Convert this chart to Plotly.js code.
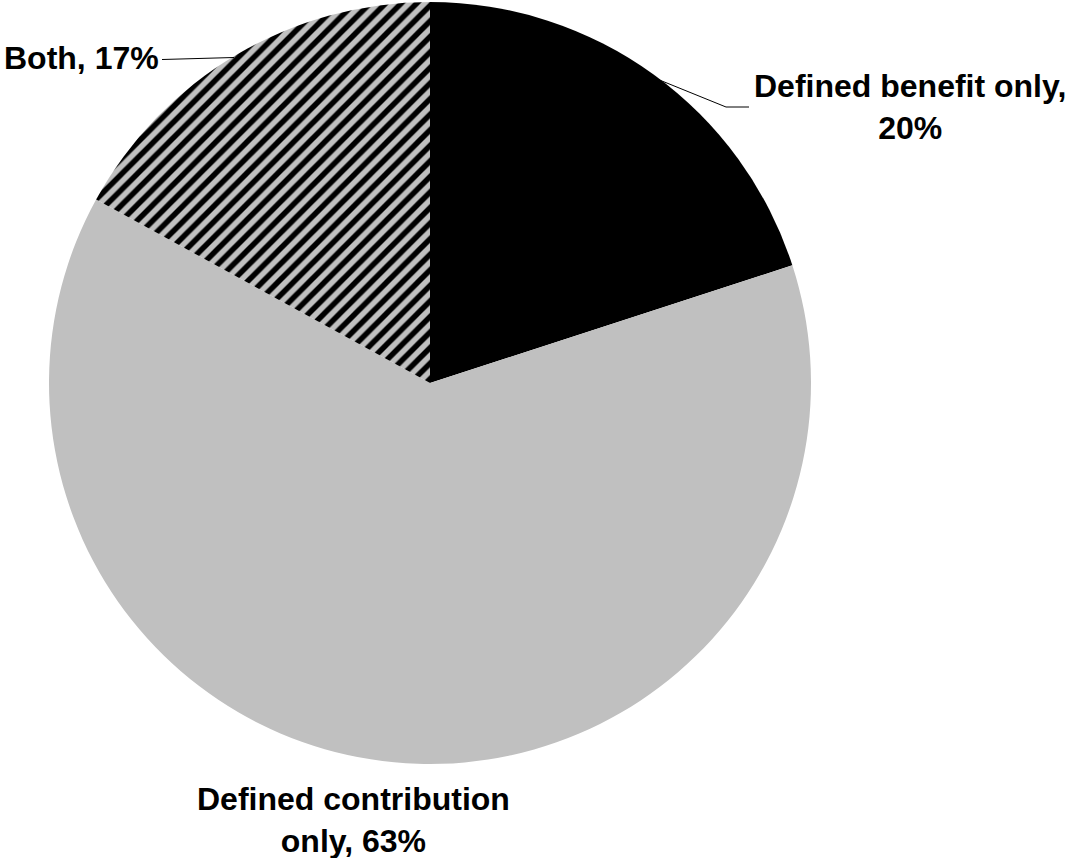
<!DOCTYPE html>
<html>
<head>
<meta charset="utf-8">
<script src="https://cdn.plot.ly/plotly-3.0.1.min.js"></script>
<style>html,body{margin:0;padding:0;background:#fff;}#chart{width:1067px;height:858px;}</style>
</head>
<body>
<div id="chart"></div>
<script>
const categories = ["Defined benefit only", "Defined contribution only", "Both"];
const shares = [20, 63, 17];
const labelTexts = ["Defined benefit only,<br>20%", "Defined contribution<br>only, 63%", "Both, 17%"];

const W = 1067, H = 858;
const px = x => x / W;
const py = y => 1 - y / H;

const trace = {
  type: 'pie',
  labels: categories,
  values: shares,
  sort: false,
  direction: 'clockwise',
  rotation: 0,
  textinfo: 'none',
  hoverinfo: 'none',
  domain: {x: [px(49), px(811)], y: [py(764), py(2)]},
  marker: {
    colors: ['#000000', '#C0C0C0', '#C0C0C0'],
    line: {width: 0},
    pattern: {
      shape: ['', '', '/'],
      fgcolor: '#000000',
      bgcolor: '#C0C0C0',
      size: 11,
      solidity: 0.5,
      fillmode: 'replace'
    }
  }
};

const font = {family: '"Liberation Sans", Arial, sans-serif', size: 32, color: '#000', weight: 'bold'};
const annPos = [
  {x: px(909.5), y: py(106.5)},
  {x: px(353.5), y: py(820)},
  {x: px(81.5), y: py(58.5)}
];
const annotations = labelTexts.map((t, i) => ({
  text: t, xref: 'paper', yref: 'paper', x: annPos[i].x, y: annPos[i].y,
  xanchor: 'center', yanchor: 'middle', showarrow: false, align: 'center', font: font
}));

function seg(x0, y0, x1, y1) {
  return {type: 'line', xref: 'paper', yref: 'paper', x0: px(x0), y0: py(y0), x1: px(x1), y1: py(y1),
    line: {color: '#000', width: 1}};
}
const shapes = [
  seg(657, 79, 726, 107), seg(726, 107, 749, 107),
  seg(162, 59.5, 234, 57.5)
];

Plotly.newPlot('chart', [trace], {
  width: W, height: H,
  margin: {l: 0, r: 0, t: 0, b: 0},
  paper_bgcolor: '#fff', plot_bgcolor: '#fff',
  showlegend: false,
  annotations: annotations,
  shapes: shapes
}, {staticPlot: true});
</script>
</body>
</html>
